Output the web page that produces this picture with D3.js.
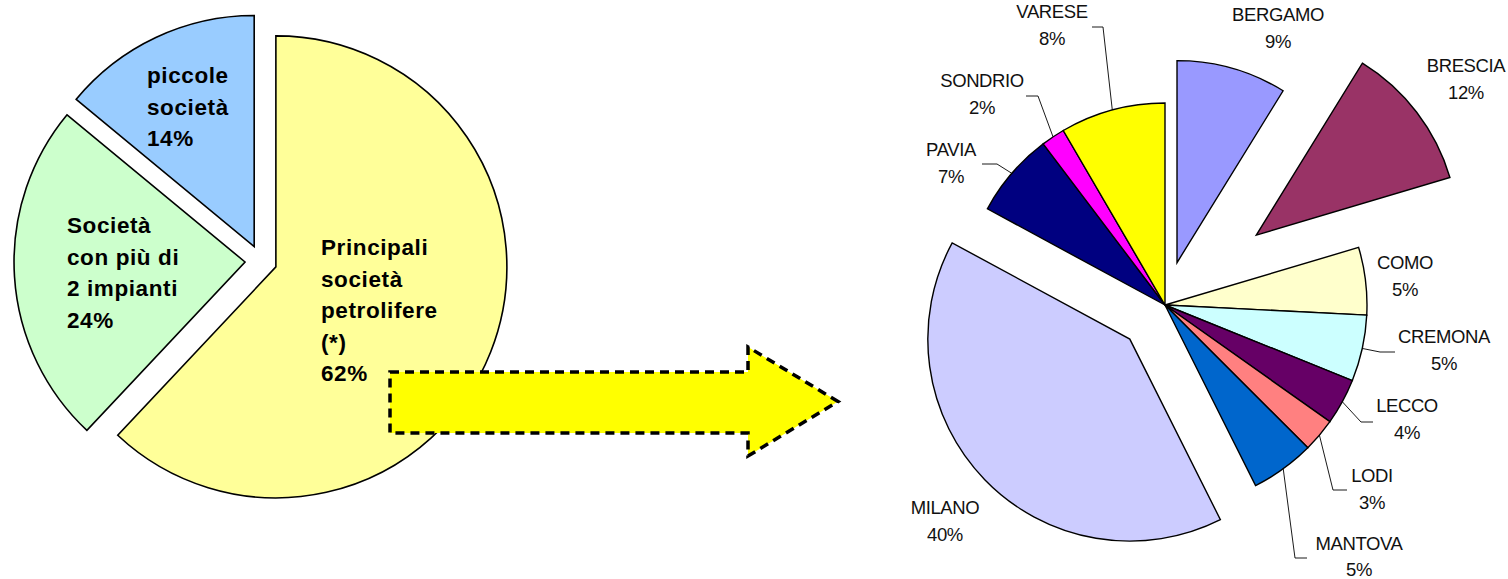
<!DOCTYPE html>
<html>
<head>
<meta charset="utf-8">
<script src="https://cdn.jsdelivr.net/npm/d3@7"></script>
<style>
  html, body { margin: 0; padding: 0; background: #fff; }
  svg { display: block; }
</style>
</head>
<body>
<svg id="chart" width="1508" height="579"></svg>
<script>
// ---------------- DATA ----------------
const leftCategories = ["Principali società petrolifere (*)", "Società con più di 2 impianti", "piccole società"];
const leftValues = [62, 24, 14];
const leftLabelLines = [
  ["Principali", "società", "petrolifere", "(*)"],
  ["Società", "con più di", "2 impianti"],
  ["piccole", "società"]
];
const leftColors = ["#FFFF99", "#CCFFCC", "#99CCFF"];

const provinces = ["BERGAMO", "BRESCIA", "COMO", "CREMONA", "LECCO", "LODI", "MANTOVA", "MILANO", "PAVIA", "SONDRIO", "VARESE"];
const provinceValues = [8.8, 11.6, 5.4, 5.3, 3.7, 2.7, 5.1, 40.3, 6.8, 1.9, 8.4];
const provinceColors = ["#9999FF", "#993366", "#FFFFCC", "#CCFFFF", "#660066", "#FF8080", "#0066CC", "#CCCCFF", "#000080", "#FF00FF", "#FFFF00"];

// ---------------- LAYOUT ----------------
const svg = d3.select("#chart");

// Left pie
const L = { cx: 261, cy: 261, r: 231, explode: 16 };
const leftLabelPos = [ // [x left, first baseline]
  [321, 255],
  [67, 233],
  [147, 83]
];
const leftLineH = 31.5;

// Right pie
const R = { cx: 1165, cy: 305, r: 202 };
const provinceExplode = { BERGAMO: 44, BRESCIA: 115, MILANO: 49 };
const provinceLabelPos = { // [center x, first baseline]
  BERGAMO: [1278, 21], BRESCIA: [1466, 72], COMO: [1405, 269], CREMONA: [1444, 343],
  LECCO: [1407, 412], LODI: [1372, 482], MANTOVA: [1359, 550], MILANO: [945, 514],
  PAVIA: [951, 156], SONDRIO: [982, 87], VARESE: [1052, 18]
};
const provinceLeaders = { // [elbow x, elbow y, end x]
  VARESE: [1103, 27, 1092], SONDRIO: [1038, 96, 1026], PAVIA: [997, 164, 982],
  CREMONA: [1380, 352, 1395], LECCO: [1361, 422, 1373], LODI: [1333, 490, 1347],
  MANTOVA: [1295, 558, 1307]
};
const rightLineH = 27;

const pie = d3.pie().sort(null).value(d => d.value);
const dirOf = a => [Math.sin(a), -Math.cos(a)];

// ---- Left pie ----
const leftData = pie(leftValues.map((v, i) => ({ name: leftCategories[i], value: v, i })));
const leftArc = d3.arc().innerRadius(0).outerRadius(L.r);
const leftG = svg.append("g").attr("transform", `translate(${L.cx},${L.cy})`);
leftData.forEach(d => {
  const m = (d.startAngle + d.endAngle) / 2;
  const [dx, dy] = dirOf(m);
  leftG.append("path")
    .attr("d", leftArc(d))
    .attr("transform", `translate(${dx * L.explode},${dy * L.explode})`)
    .attr("fill", leftColors[d.data.i])
    .attr("stroke", "#000")
    .attr("stroke-width", 1.6)
    .attr("stroke-linejoin", "miter");
});
const leftTotal = d3.sum(leftValues);
leftData.forEach(d => {
  const i = d.data.i;
  const lines = leftLabelLines[i].concat([Math.round(d.data.value / leftTotal * 100) + "%"]);
  const t = svg.append("text")
    .attr("font-family", "'Liberation Sans', Arial, sans-serif")
    .attr("font-weight", "bold")
    .attr("font-size", 22.5)
    .attr("letter-spacing", 0.6)
    .attr("fill", "#000");
  lines.forEach((ln, k) => {
    t.append("tspan").attr("x", leftLabelPos[i][0]).attr("y", leftLabelPos[i][1] + k * leftLineH).text(ln);
  });
});

// ---- Arrow ----
const arrow = { x0: 390, x1: 748, x2: 838, yBodyTop: 372, yBodyBot: 433, yHeadTop: 347, yHeadBot: 456 };
const yMid = (arrow.yHeadTop + arrow.yHeadBot) / 2;
const arrowPts = [
  [arrow.x0, arrow.yBodyTop], [arrow.x1, arrow.yBodyTop], [arrow.x1, arrow.yHeadTop],
  [arrow.x2, yMid], [arrow.x1, arrow.yHeadBot], [arrow.x1, arrow.yBodyBot], [arrow.x0, arrow.yBodyBot]
];
svg.append("path")
  .attr("d", d3.line()(arrowPts) + "Z")
  .attr("fill", "#FFFF00")
  .attr("stroke", "#000")
  .attr("stroke-width", 3.5)
  .attr("stroke-dasharray", "9,6")
  .attr("stroke-linejoin", "miter");

// ---- Right pie ----
const rightData = pie(provinceValues.map((v, i) => ({ name: provinces[i], value: v, i })));
const rightArc = d3.arc().innerRadius(0).outerRadius(R.r);
const rightG = svg.append("g").attr("transform", `translate(${R.cx},${R.cy})`);
rightData.forEach(d => {
  const m = (d.startAngle + d.endAngle) / 2;
  const [dx, dy] = dirOf(m);
  const e = provinceExplode[d.data.name] || 0;
  rightG.append("path")
    .attr("d", rightArc(d))
    .attr("transform", `translate(${dx * e},${dy * e})`)
    .attr("fill", provinceColors[d.data.i])
    .attr("stroke", "#000")
    .attr("stroke-width", 1.4)
    .attr("stroke-linejoin", "miter");
});

// Leader lines
rightData.forEach(d => {
  const ld = provinceLeaders[d.data.name];
  if (!ld) return;
  const m = (d.startAngle + d.endAngle) / 2;
  const [dx, dy] = dirOf(m);
  const sx = R.cx + dx * R.r, sy = R.cy + dy * R.r;
  svg.append("path")
    .attr("d", d3.line()([[sx, sy], [ld[0], ld[1]], [ld[2], ld[1]]]))
    .attr("fill", "none")
    .attr("stroke", "#000")
    .attr("stroke-width", 0.9);
});

// Labels
const rightTotal = d3.sum(provinceValues);
rightData.forEach(d => {
  const p = provinceLabelPos[d.data.name];
  const t = svg.append("text")
    .attr("font-family", "'Liberation Sans', Arial, sans-serif")
    .attr("font-size", 18.5)
    .attr("letter-spacing", -0.4)
    .attr("text-anchor", "middle")
    .attr("fill", "#111");
  t.append("tspan").attr("x", p[0]).attr("y", p[1]).text(d.data.name);
  t.append("tspan").attr("x", p[0]).attr("y", p[1] + (d.data.name === "MANTOVA" ? rightLineH - 1 : rightLineH))
    .text(Math.round(d.data.value / rightTotal * 100) + "%");
});
</script>
</body>
</html>
